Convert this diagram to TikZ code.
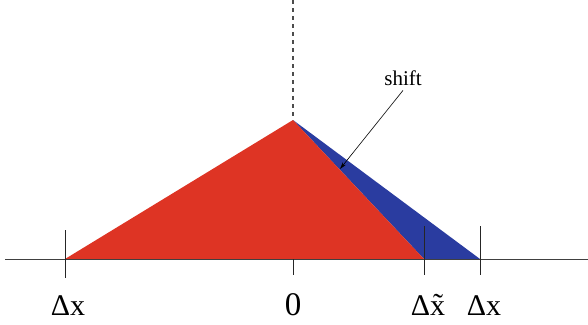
\documentclass[tikz,border=0pt]{standalone}
\usepackage{fontspec}
\setmainfont{Liberation Serif}
\usetikzlibrary{arrows.meta}
\definecolor{shapered}{RGB}{222,52,36}
\definecolor{shapeblue}{RGB}{42,60,160}

\begin{document}
\begin{tikzpicture}[x=1pt,y=-1pt,
    axislbl/.style={anchor=base, inner sep=0pt, font=\fontsize{30}{32}\selectfont}]
    \useasboundingbox (0,0) rectangle (588,324);
    % Corners of the two triangles
    \coordinate (left) at (65,259);
    \coordinate (peak) at (293,120);
    \coordinate (mid) at (424,259);
    \coordinate (right) at (480,259);
    % Shifted (blue) and original (red) triangle
    \fill[shapeblue] (peak) -- (right) -- (mid) -- cycle;
    \fill[shapered] (left) -- (peak) -- (mid) -- cycle;
    % Axis and dashed centre line
    \draw[black!75, line width=1pt] (5,259) -- (588,259);
    \draw[black!70, line width=1.5pt, dash pattern=on 4pt off 4pt] (293,0) -- (peak);
    % Ticks
    \foreach \x/\top/\bot in {65/230/278, 293/259/275, 424/226/275, 480/226/275}
        \draw[black!85, line width=0.8pt] (\x,\top) -- (\x,\bot);
    % Labels
    \node[axislbl] (dxl) at (68,315) {Δx};
    \node[axislbl, font=\fontsize{33}{36}\selectfont] (zero) at (293,315) {0};
    \node[axislbl] (dxt) at (428,315) {Δ\~{x}};
    \node[axislbl] (dxr) at (484,315) {Δx};
    \node[anchor=base, inner sep=1pt, font=\fontsize{21}{23}\selectfont] (shift) at (403,85) {shift};
    \coordinate (tip) at (340,169);
    \draw[-{Stealth[length=7pt,width=4pt]}, line width=0.6pt] ([yshift=-4pt]shift.south) -- (tip);
\end{tikzpicture}
\end{document}
